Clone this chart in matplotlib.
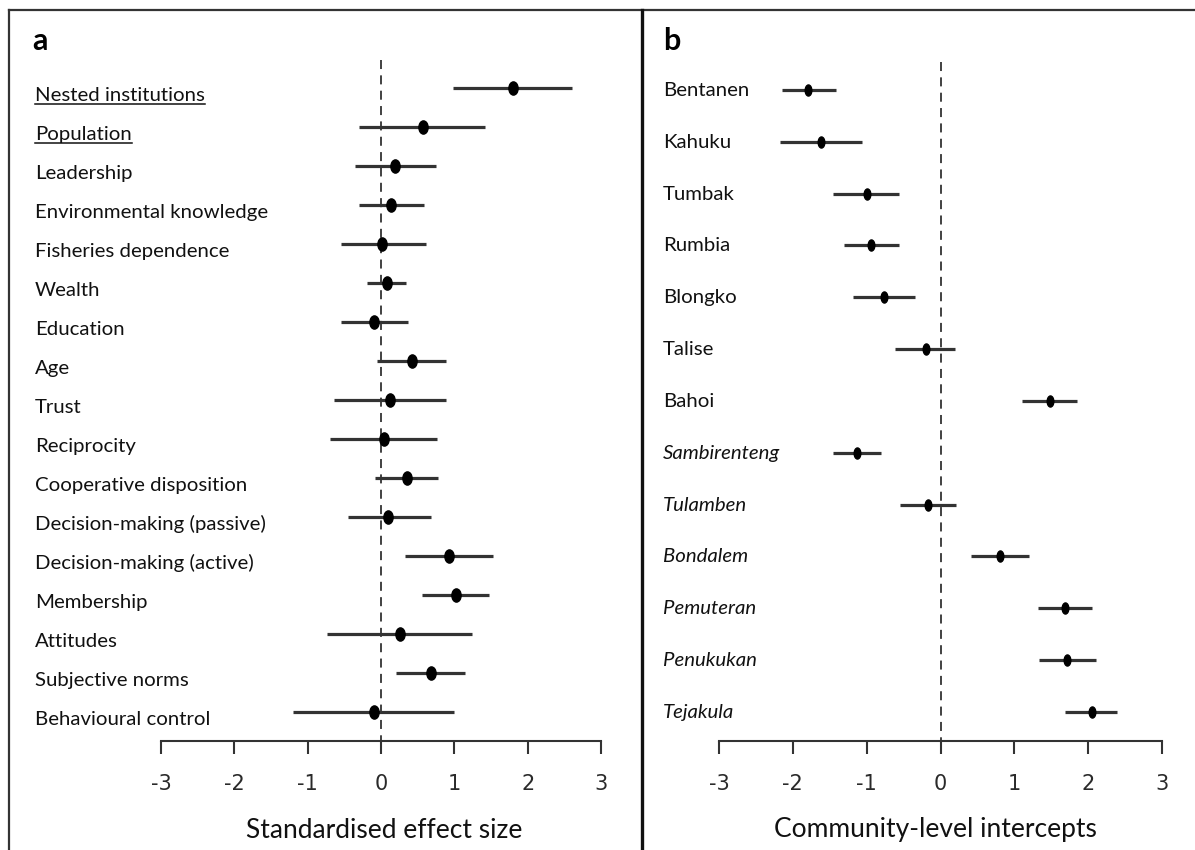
import numpy as np
import matplotlib
matplotlib.use('Agg')
import matplotlib.pyplot as plt
from matplotlib.lines import Line2D
from matplotlib.markers import MarkerStyle
from matplotlib.transforms import Affine2D, blended_transform_factory

# Panel a: standardised effect sizes (estimate with interval)
predictors = ['Nested institutions', 'Population', 'Leadership',
              'Environmental knowledge', 'Fisheries dependence', 'Wealth',
              'Education', 'Age', 'Trust', 'Reciprocity',
              'Cooperative disposition', 'Decision-making (passive)',
              'Decision-making (active)', 'Membership', 'Attitudes',
              'Subjective norms', 'Behavioural control']
pred_est = [1.80, 0.57, 0.19, 0.14, 0.02, 0.08, -0.10, 0.42, 0.12, 0.04,
            0.35, 0.10, 0.93, 1.02, 0.26, 0.68, -0.10]
pred_lo = [0.98, -0.30, -0.36, -0.30, -0.55, -0.19, -0.55, -0.05, -0.64, -0.69,
           -0.08, -0.45, 0.33, 0.56, -0.73, 0.21, -1.20]
pred_hi = [2.60, 1.42, 0.75, 0.58, 0.61, 0.34, 0.37, 0.89, 0.89, 0.77,
           0.78, 0.68, 1.53, 1.47, 1.24, 1.15, 0.99]
underlined = ['Nested institutions', 'Population']

# Panel b: community-level intercepts
communities = ['Bentanen', 'Kahuku', 'Tumbak', 'Rumbia', 'Blongko', 'Talise',
               'Bahoi', 'Sambirenteng', 'Tulamben', 'Bondalem', 'Pemuteran',
               'Penukukan', 'Tejakula']
comm_est = [-1.79, -1.62, -1.00, -0.94, -0.77, -0.20, 1.48, -1.13, -0.17,
            0.81, 1.68, 1.71, 2.05]
comm_lo = [-2.15, -2.17, -1.45, -1.31, -1.18, -0.61, 1.10, -1.45, -0.55,
           0.41, 1.32, 1.34, 1.68]
comm_hi = [-1.41, -1.06, -0.56, -0.56, -0.35, 0.19, 1.85, -0.81, 0.21,
           1.20, 2.05, 2.10, 2.39]
italic_from = 7  # Sambirenteng onwards in italics

xticks = [-3, -2, -1, 0, 1, 2, 3]

W, H = 1195, 850
fig = plt.figure(figsize=(W / 100, H / 100), dpi=100)

label_font = 'Lato'
tick_font = ['Liberation Sans Narrow', 'DejaVu Sans']
line_col = '#333333'


def forest(ax, names, est, lo, hi, row0, row_gap, x_left, x_right, px_m3, px_p3,
           axis_y, dash_top, text_px, text_drop, msize, mscale, italic_start=None):
    n = len(names)
    rows = np.arange(n)
    unit = (px_p3 - px_m3) / 6.0
    ax.set_xlim(-3 - (px_m3 - x_left) / unit, 3 + (x_right - px_p3) / unit)
    ax.set_ylim((H - row0) / row_gap, (0 - row0) / row_gap)
    ax.patch.set_visible(False)
    for s in ['top', 'left', 'right']:
        ax.spines[s].set_visible(False)
    axis_row = (axis_y - row0) / row_gap
    ax.spines['bottom'].set_position(('data', axis_row))
    ax.spines['bottom'].set_bounds(-3, 3)
    ax.spines['bottom'].set_linewidth(1.5)
    ax.spines['bottom'].set_color(line_col)
    ax.set_yticks([])
    ax.set_xticks(xticks)
    ax.set_xticklabels([str(t) for t in xticks], family=tick_font, fontsize=15,
                       color='#2a2a2a')
    ax.tick_params(axis='x', direction='out', length=9.5, width=1.5,
                   color=line_col, pad=14)
    # dashed reference line at zero
    ax.vlines(0, (dash_top - row0) / row_gap, axis_row, colors='#333333',
              linestyles=(0, (5, 3.5)), linewidth=1.3)
    ax.hlines(rows, lo, hi, colors=line_col, linewidth=2.3)
    mk = MarkerStyle('o', transform=Affine2D().scale(mscale, 1.0))
    ax.plot(est, rows, linestyle='none', marker=mk, markersize=msize,
            color='black')
    trans = blended_transform_factory(ax.transAxes, ax.transData)
    xfrac = (text_px - x_left) / (x_right - x_left)
    texts = []
    for i, name in enumerate(names):
        style = 'italic' if (italic_start is not None and i >= italic_start) else 'normal'
        t = ax.text(xfrac, i + text_drop / row_gap, name, transform=trans,
                    ha='left', va='baseline', fontsize=14.7, family=label_font,
                    style=style, color='#111111')
        texts.append(t)
    return texts


# panel a axes spans full height, x from 9 to 643 px
ax_a = fig.add_axes([9 / W, 0, (643 - 9) / W, 1])
texts_a = forest(ax_a, predictors, pred_est, pred_lo, pred_hi, 88, 39.0, 9, 643,
                 161, 601, 741, 60, 35, 13, 9.5, 0.7)

ax_b = fig.add_axes([643 / W, 0, (W - 643) / W, 1])
texts_b = forest(ax_b, communities, comm_est, comm_lo, comm_hi, 90, 51.83, 643, W,
                 719, 1162, 741, 62, 663, 6, 8, 0.6, italic_start=italic_from)

# axis titles
fig.text(384 / W, 1 - 830 / H, 'Standardised effect size', ha='center',
         va='center', fontsize=19, family=label_font, color='#111111')
fig.text(935 / W, 1 - 830 / H, 'Community-level intercepts', ha='center',
         va='center', fontsize=19, family=label_font, color='#111111')

# panel letters
fig.text(32 / W, 1 - 41 / H, 'a', ha='left', va='center', fontsize=22,
         fontweight='bold', family=label_font)
fig.text(663 / W, 1 - 41 / H, 'b', ha='left', va='center', fontsize=22,
         fontweight='bold', family=label_font)

# frame lines
fig.add_artist(Line2D([9 / W, 1], [1 - 10 / H, 1 - 10 / H], color='#333333',
                      linewidth=1.6, transform=fig.transFigure))
fig.add_artist(Line2D([9 / W, 9 / W], [0, 1 - 10 / H], color='#333333',
                      linewidth=1.6, transform=fig.transFigure))
fig.add_artist(Line2D([642 / W, 642 / W], [0, 1 - 10 / H], color='#111111',
                      linewidth=2.4, transform=fig.transFigure))

# underline the community-level predictors
fig.canvas.draw()
renderer = fig.canvas.get_renderer()
inv = fig.transFigure.inverted()
for t in texts_a:
    if t.get_text() in underlined:
        bb = t.get_window_extent(renderer)
        base = t.get_transform().transform(t.get_position())[1] - 3
        p0 = inv.transform((bb.x0, base))
        p1 = inv.transform((bb.x1, base))
        fig.add_artist(Line2D([p0[0], p1[0]], [p0[1], p1[1]], color='#111111',
                              linewidth=1.1, transform=fig.transFigure))

fig.savefig('out.png', dpi=100)
